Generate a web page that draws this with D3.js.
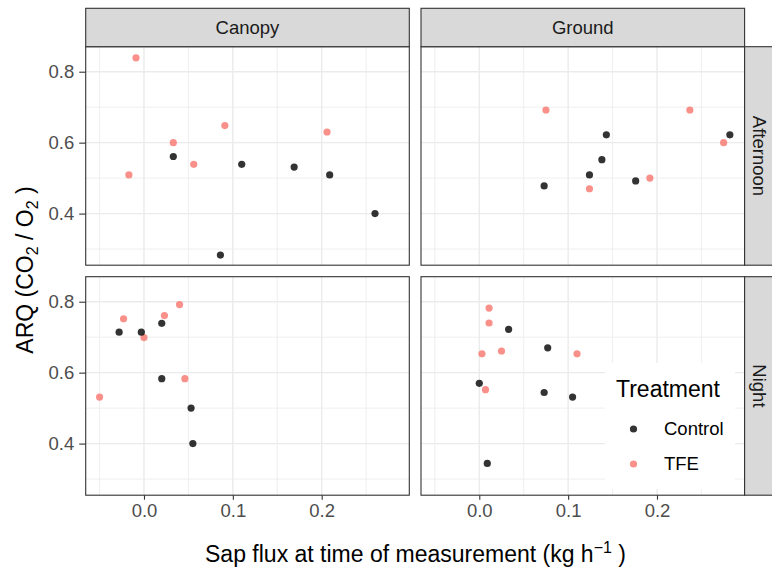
<!DOCTYPE html>
<html>
<head>
<meta charset="utf-8">
<script src="https://cdn.jsdelivr.net/npm/d3@7"></script>
<style>
  body { margin: 0; background: #fff; }
  svg { display: block; font-family: "Liberation Sans", Arial, sans-serif; }
</style>
</head>
<body>
<svg id="chart" width="772" height="569"></svg>
<script>
// facets, rows and treatments
var locations = ["Canopy", "Ground"];
var periods = ["Afternoon", "Night"];
var treatments = ["Control", "TFE"];
var treatmentColors = ["#000000", "#F8766D"];

// points: [sap flux, ARQ]
var canopyAfternoonControl = [[0.033, 0.561], [0.086, 0.283], [0.110, 0.539], [0.169, 0.531], [0.209, 0.509], [0.260, 0.400]];
var canopyAfternoonTFE = [[-0.009, 0.839], [-0.017, 0.509], [0.033, 0.600], [0.056, 0.539], [0.091, 0.648], [0.206, 0.630]];
var groundAfternoonControl = [[0.073, 0.478], [0.124, 0.509], [0.138, 0.552], [0.143, 0.622], [0.176, 0.492], [0.282, 0.622]];
var groundAfternoonTFE = [[0.075, 0.692], [0.124, 0.470], [0.192, 0.500], [0.237, 0.692], [0.275, 0.600]];
var canopyNightControl = [[-0.028, 0.714], [-0.003, 0.714], [0.020, 0.739], [0.020, 0.583], [0.053, 0.500], [0.055, 0.400]];
var canopyNightTFE = [[-0.050, 0.531], [-0.023, 0.752], [0.000, 0.699], [0.023, 0.761], [0.040, 0.792], [0.046, 0.583]];
var groundNightControl = [[0.033, 0.722], [0.077, 0.670], [0.000, 0.570], [0.073, 0.544], [0.105, 0.531], [0.009, 0.344]];
var groundNightTFE = [[0.011, 0.782], [0.011, 0.740], [0.003, 0.653], [0.025, 0.661], [0.110, 0.653], [0.007, 0.552]];

var xTicks = [0.0, 0.1, 0.2];
var xMinor = [-0.05, 0.05, 0.15, 0.25];
var yTicks = [0.4, 0.6, 0.8];
var yMinor = [0.3, 0.5, 0.7];

var groups = {
    "Canopy|Afternoon": [canopyAfternoonTFE, canopyAfternoonControl],
    "Ground|Afternoon": [groundAfternoonTFE, groundAfternoonControl],
    "Canopy|Night": [canopyNightTFE, canopyNightControl],
    "Ground|Night": [groundNightTFE, groundNightControl]
};

var svg = d3.select("#chart");

// panel geometry
var colX = [85.7, 421];
var rowY = [46.7, 276.7];
var panelW = 323.6;
var panelH = 218.5;
var stripH = 38.4;

var x = d3.scaleLinear().domain([-0.0656, 0.2986]).range([0, panelW]);
var y = d3.scaleLinear().domain([0.2545, 0.8705]).range([panelH, 0]);

var tickCol = "#4D4D4D";
var small = 18.5;
var big = 23;

periods.forEach(function(period, r) {
    locations.forEach(function(loc, c) {
        var g = svg.append("g")
            .attr("transform", "translate(" + colX[c] + "," + rowY[r] + ")");

        g.append("rect")
            .attr("width", panelW).attr("height", panelH)
            .attr("fill", "#fff");

        // grid
        g.selectAll(".vminor").data(xMinor).enter().append("line")
            .attr("x1", function(d) { return x(d); }).attr("x2", function(d) { return x(d); })
            .attr("y1", 0).attr("y2", panelH)
            .attr("stroke", "#EBEBEB").attr("stroke-width", 0.8);
        g.selectAll(".hminor").data(yMinor).enter().append("line")
            .attr("y1", function(d) { return y(d); }).attr("y2", function(d) { return y(d); })
            .attr("x1", 0).attr("x2", panelW)
            .attr("stroke", "#EBEBEB").attr("stroke-width", 0.8);
        g.selectAll(".vmajor").data(xTicks).enter().append("line")
            .attr("x1", function(d) { return x(d); }).attr("x2", function(d) { return x(d); })
            .attr("y1", 0).attr("y2", panelH)
            .attr("stroke", "#EBEBEB").attr("stroke-width", 1.4);
        g.selectAll(".hmajor").data(yTicks).enter().append("line")
            .attr("y1", function(d) { return y(d); }).attr("y2", function(d) { return y(d); })
            .attr("x1", 0).attr("x2", panelW)
            .attr("stroke", "#EBEBEB").attr("stroke-width", 1.4);

        // legend box sits inside the bottom-right panel
        if (r == 1 && c == 1) {
            var lg = g.append("g").attr("transform", "translate(" + (605 - colX[c]) + "," + (363 - rowY[r]) + ")");
            lg.append("rect").attr("width", 130).attr("height", 126).attr("fill", "#fff");
        }

        // points
        groups[loc + "|" + period].forEach(function(pts, i) {
            var col = i == 0 ? treatmentColors[1] : treatmentColors[0];
            g.selectAll(null).data(pts).enter().append("circle")
                .attr("cx", function(d) { return x(d[0]); })
                .attr("cy", function(d) { return y(d[1]); })
                .attr("r", 3.6)
                .attr("fill", col)
                .attr("fill-opacity", 0.8);
        });

        g.append("rect")
            .attr("width", panelW).attr("height", panelH)
            .attr("fill", "none").attr("stroke", "#333333").attr("stroke-width", 1.1);

        // top strips
        if (r == 0) {
            g.append("rect")
                .attr("y", -stripH).attr("width", panelW).attr("height", stripH)
                .attr("fill", "#D9D9D9").attr("stroke", "#333333").attr("stroke-width", 1.1);
            g.append("text")
                .attr("x", panelW / 2).attr("y", -stripH / 2)
                .attr("dy", "0.35em")
                .attr("text-anchor", "middle")
                .attr("fill", "#1A1A1A").attr("font-size", small)
                .text(loc);
        }
        // right strips (cut by the picture edge, text kept inside)
        if (c == 1) {
            g.append("rect")
                .attr("x", panelW).attr("width", stripH).attr("height", panelH)
                .attr("fill", "#D9D9D9").attr("stroke", "#333333").attr("stroke-width", 1.1);
            g.append("text")
                .attr("transform", "translate(" + (panelW + 15) + "," + (panelH / 2) + ") rotate(90)")
                .attr("dy", "0.35em")
                .attr("text-anchor", "middle")
                .attr("fill", "#1A1A1A").attr("font-size", small)
                .text(period);
        }

        // y axis on left column
        if (c == 0) {
            var ya = g.append("g").call(d3.axisLeft(y).tickValues(yTicks).tickFormat(d3.format(".1f")).tickSize(6.5).tickPadding(5));
            ya.select(".domain").remove();
            ya.selectAll("line").attr("stroke", "#333333").attr("stroke-width", 1.1);
            ya.selectAll("text").attr("fill", tickCol).attr("font-size", small).attr("font-family", "Liberation Sans, Arial, sans-serif");
        }
        // x axis on bottom row
        if (r == 1) {
            var xa = g.append("g").attr("transform", "translate(0," + panelH + ")")
                .call(d3.axisBottom(x).tickValues(xTicks).tickFormat(d3.format(".1f")).tickSize(4.5).tickPadding(4));
            xa.select(".domain").remove();
            xa.selectAll("line").attr("stroke", "#333333").attr("stroke-width", 1.1);
            xa.selectAll("text").attr("fill", tickCol).attr("font-size", small).attr("font-family", "Liberation Sans, Arial, sans-serif");
        }
    });
});

// legend content
var legend = svg.append("g");
legend.append("text")
    .attr("x", 616).attr("y", 396.5)
    .attr("font-size", big).attr("fill", "#000")
    .text("Treatment");
treatments.forEach(function(t, i) {
    legend.append("circle")
        .attr("cx", 633.5).attr("cy", 429 + i * 35)
        .attr("r", 3.6)
        .attr("fill", treatmentColors[i]).attr("fill-opacity", 0.8);
    legend.append("text")
        .attr("x", 664).attr("y", 429 + i * 35)
        .attr("dy", "0.35em")
        .attr("font-size", small).attr("fill", "#000")
        .text(t);
});

// axis titles
var xt = svg.append("text")
    .attr("x", 415.5).attr("y", 561.5)
    .attr("text-anchor", "middle")
    .attr("font-size", big).attr("fill", "#000");
xt.append("tspan").text("Sap flux at time of measurement (kg h");
xt.append("tspan").attr("font-size", 16).attr("dy", -9).text("\u22121");
xt.append("tspan").attr("dy", 9).text(" )");

var yt = svg.append("text")
    .attr("transform", "translate(33,270) rotate(-90)")
    .attr("text-anchor", "middle")
    .attr("font-size", big).attr("fill", "#000");
yt.append("tspan").text("ARQ (CO");
yt.append("tspan").attr("font-size", 16).attr("dy", 5).text("2");
yt.append("tspan").attr("dy", -5).text(" / O");
yt.append("tspan").attr("font-size", 16).attr("dy", 5).text("2");
yt.append("tspan").attr("dy", -5).text(" )");
</script>
</body>
</html>
